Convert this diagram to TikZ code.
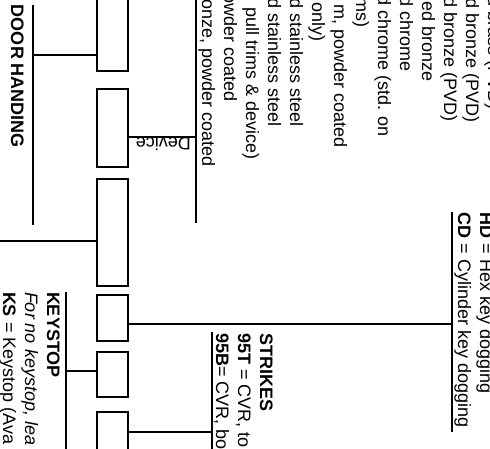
\documentclass[tikz,border=0pt]{standalone}
\usepackage{fontspec}
\setmainfont{Liberation Sans}
\begin{document}
\fontsize{18}{22}\selectfont
\begin{tikzpicture}[x=1pt,y=-1pt,
  lbl/.style={rotate=-90, anchor=base west, inner sep=0pt, outer sep=0pt},
  lble/.style={rotate=-90, anchor=base east, inner sep=0pt, outer sep=0pt},
  boxn/.style={draw, line width=1.6pt, minimum width=31.4pt, inner sep=0pt, outer sep=0pt},
  conn/.style={line width=1.3pt},
  grp/.style={line width=1.5pt}]
\useasboundingbox (0,0) rectangle (490,449);
\begin{scope}
\clip (0,0) rectangle (490,449);
% boxes
\node[boxn, minimum height=90.4pt] (b1) at (112.5,26) {};
\node[boxn, minimum height=78.4pt] (b2) at (112.5,128) {};
\node[boxn, minimum height=107.4pt] (b3) at (112.5,232.5) {};
\node[boxn, minimum height=46.4pt] (b4) at (112.5,318) {};
\node[boxn, minimum height=45.4pt] (b5) at (112.5,374.5) {};
\node[boxn, minimum height=57.4pt] (b6) at (112.5,440.5) {};
% group lines
\coordinate (dhT) at (33,5);   \coordinate (dhB) at (33,225);  \coordinate (dhJ) at (33,55);
\coordinate (fT) at (196,-10); \coordinate (fB) at (196,223);  \coordinate (fJ) at (196,137);
\coordinate (cdT) at (452,212);\coordinate (cdB) at (452,432); \coordinate (cdJ) at (452,324);
\coordinate (ksT) at (66,292); \coordinate (ksB) at (66,470);  \coordinate (ksJ) at (66,371);
\coordinate (stT) at (212,332);\coordinate (stB) at (212,470); \coordinate (stJ) at (212,432);
\coordinate (offJ) at (-5,241);
\draw[grp] (dhT) -- (dhB);
\draw[grp] (fT) -- (fB);
\draw[grp] (cdT) -- (cdB);
\draw[grp] (ksT) -- (ksB);
\draw[grp] (stT) -- (stB);
% connectors
\draw[conn] (dhJ) -- (dhJ -| b1.west);
\draw[conn] (fJ) -- (fJ -| b2.east);
\draw[conn] (offJ) -- (offJ -| b3.west);
\draw[conn] (cdJ) -- (cdJ -| b4.east);
\draw[conn] (ksJ) -- (ksJ -| b5.west);
\draw[conn] (stJ) -- (stJ -| b6.east);
\node[rotate=180, anchor=base west, inner sep=0pt] (dev) at (191,138) {Device};
% door handing
\node[lbl, font=\bfseries] (dh) at (11,5) {DOOR HANDING};
% finish list
\node[lble] (f0) at (488,110) {d brass (PVD)};
\node[lble] (f1) at (466,123) {d bronze (PVD)};
\node[lble] (f2) at (444,122) {d bronze (PVD)};
\node[lble] (f3) at (422,82) {ed bronze};
\node[lble] (f4) at (400,72) {d chrome};
\node[lble] (f5) at (378,137) {d chrome (std. on};
\node[lble] (f6) at (356,27) {ms)};
\node[lble] (f7) at (334,148) {m, powder coated};
\node[lble] (f8) at (312,42) {only)};
\node[lble] (f9) at (290,127) {d stainless steel};
\node[lble] (f10) at (268,127) {d stainless steel};
\node[lble] (f11) at (246,160) {pull trims \& device)};
\node[lble] (f12) at (224,102) {owder coated};
\node[lble] (f13) at (202,167) {onze, powder coated};
% dogging
\node[lbl] (hd) at (480,213) {{\bfseries HD} = Hex key dogging};
\node[lbl] (cd) at (458,213) {{\bfseries CD} = Cylinder key dogging};
% strikes
\node[lbl, font=\bfseries] (st) at (260,333) {STRIKES};
\node[lbl] (s1) at (238,333) {{\bfseries 95T} = CVR, to};
\node[lbl] (s2) at (216,333) {{\bfseries 95B}= CVR, bo};
% keystop
\node[lbl, font=\bfseries] (ks) at (47,292) {KEYSTOP};
\node[lbl, font=\itshape] (k1) at (25,292) {For no keystop, lea};
\node[lbl] (k2) at (3,292) {{\bfseries KS} = Keystop (Ava};
\end{scope}
\end{tikzpicture}
\end{document}
